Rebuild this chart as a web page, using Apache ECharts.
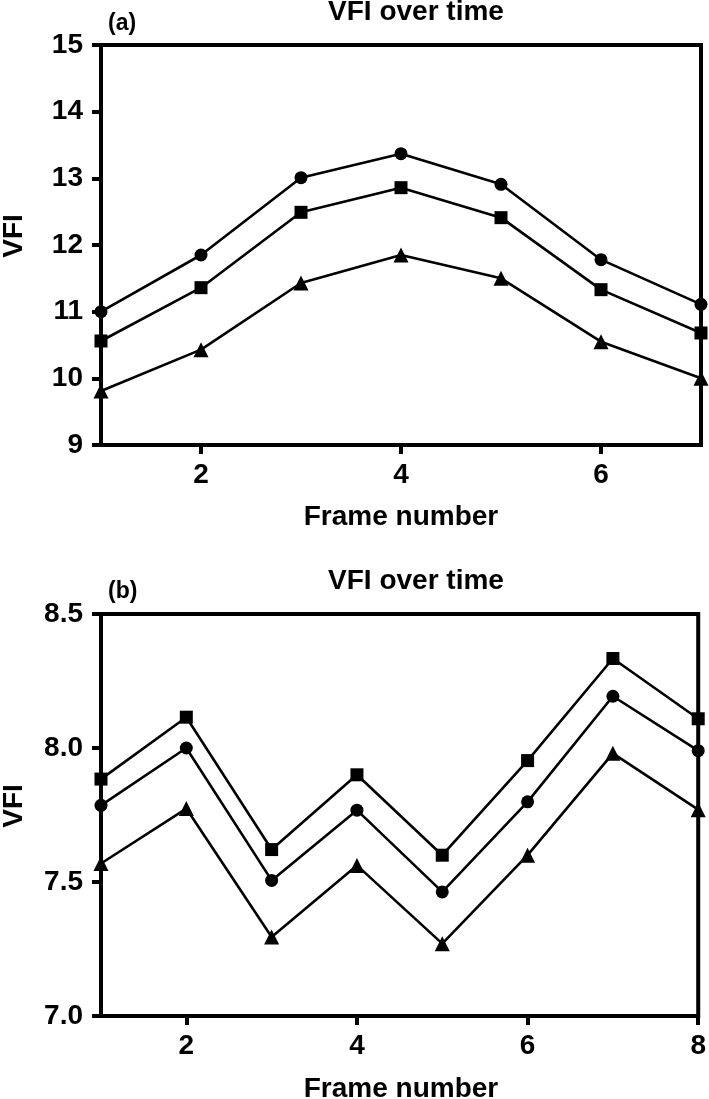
<!DOCTYPE html>
<html>
<head>
<meta charset="utf-8">
<script src="https://cdn.jsdelivr.net/npm/echarts@6/dist/echarts.min.js"></script>
<style>
html,body{margin:0;padding:0;background:#fff;}
#chart{width:709px;height:1099px;}
</style>
</head>
<body>
<div id="chart"></div>
<script>
// Panel (a)
const framesA = [1, 2, 3, 4, 5, 6, 7];
const circleA = [11.00, 11.85, 13.01, 13.37, 12.91, 11.78, 11.11];
const squareA = [10.56, 11.36, 12.49, 12.86, 12.41, 11.33, 10.68];
const triangleA = [9.81, 10.43, 11.43, 11.85, 11.50, 10.55, 10.00];
const xTicksA = [2, 4, 6];

// Panel (b)
const framesB = [1, 2, 3, 4, 5, 6, 7, 8];
const squareB = [7.884, 8.115, 7.621, 7.900, 7.600, 7.953, 8.334, 8.109];
const circleB = [7.786, 8.000, 7.506, 7.768, 7.463, 7.799, 8.193, 7.990];
const triangleB = [7.569, 7.774, 7.295, 7.562, 7.270, 7.600, 7.980, 7.770];
const xTicksB = [2, 4, 6, 8];

const titleText = 'VFI over time';
const xName = 'Frame number';
const yName = 'VFI';

const FONT = '"Liberation Sans", Arial, Helvetica, sans-serif';

function pairs(xs, ys) { return xs.map((x, i) => [x, ys[i]]); }

function xAxisCfg(gi, max, ticks) {
  return {
    type: 'value', gridIndex: gi, min: 1, max: max,
    axisLine: { show: true, lineStyle: { color: '#000', width: 4 } },
    axisTick: { show: true, customValues: ticks, length: 9, inside: false, lineStyle: { color: '#000', width: 4 } },
    axisLabel: { show: true, customValues: ticks, margin: 16, color: '#000', fontSize: 28, fontWeight: 'bold', fontFamily: FONT },
    splitLine: { show: false }
  };
}
function yAxisCfg(gi, min, max, interval, dec) {
  return {
    type: 'value', gridIndex: gi, min: min, max: max, interval: interval,
    axisLine: { show: true, lineStyle: { color: '#000', width: 4 } },
    axisTick: { show: true, length: 9, inside: false, lineStyle: { color: '#000', width: 4 } },
    axisLabel: { show: true, margin: 18, color: '#000', fontSize: 28, fontWeight: 'bold', fontFamily: FONT,
      formatter: v => v.toFixed(dec) },
    splitLine: { show: false }
  };
}
function seriesCfg(name, xi, data, symbol, size) {
  return {
    type: 'line', name: name, xAxisIndex: xi, yAxisIndex: xi, data: data,
    symbol: symbol, symbolSize: size, showSymbol: true, clip: false,
    lineStyle: { color: '#000', width: 2.6 },
    itemStyle: { color: '#000' },
    z: 5
  };
}
function txt(text, x, y, size, rot) {
  return {
    type: 'text', x: x, y: y, rotation: rot || 0,
    style: { text: text, fill: '#000', font: 'bold ' + size + 'px ' + FONT,
      textAlign: 'center', textVerticalAlign: 'middle' },
    z: 10
  };
}

const chart = echarts.init(document.getElementById('chart'), null, { renderer: 'canvas' });
chart.setOption({
  animation: false,
  backgroundColor: '#fff',
  grid: [
    { left: 101, top: 45, width: 600, height: 400, show: true, borderColor: '#000', borderWidth: 4, backgroundColor: 'transparent' },
    { left: 101, top: 614, width: 600, height: 402, show: true, borderColor: '#000', borderWidth: 4, backgroundColor: 'transparent' }
  ],
  xAxis: [xAxisCfg(0, 7, xTicksA), xAxisCfg(1, 8, xTicksB)],
  yAxis: [yAxisCfg(0, 9, 15, 1, 0), yAxisCfg(1, 7, 8.5, 0.5, 1)],
  series: [
    seriesCfg('Circle (a)', 0, pairs(framesA, circleA), 'circle', 13),
    seriesCfg('Square (a)', 0, pairs(framesA, squareA), 'rect', 13),
    seriesCfg('Triangle (a)', 0, pairs(framesA, triangleA), 'triangle', 15),
    seriesCfg('Square (b)', 1, pairs(framesB, squareB), 'rect', 13),
    seriesCfg('Circle (b)', 1, pairs(framesB, circleB), 'circle', 13),
    seriesCfg('Triangle (b)', 1, pairs(framesB, triangleB), 'triangle', 15)
  ],
  graphic: [
    txt(titleText, 416, 12, 28),
    txt(titleText, 416, 581, 28),
    { type: 'text', x: 108, y: 24, style: { text: '(a)', fill: '#000', font: 'bold 23px ' + FONT, textAlign: 'left', textVerticalAlign: 'middle' } },
    { type: 'text', x: 108, y: 592, style: { text: '(b)', fill: '#000', font: 'bold 23px ' + FONT, textAlign: 'left', textVerticalAlign: 'middle' } },
    txt(yName, 14, 236, 28, Math.PI / 2),
    txt(yName, 14, 806, 28, Math.PI / 2),
    txt(xName, 401, 517, 28),
    txt(xName, 401, 1089, 28)
  ]
});
</script>
</body>
</html>
